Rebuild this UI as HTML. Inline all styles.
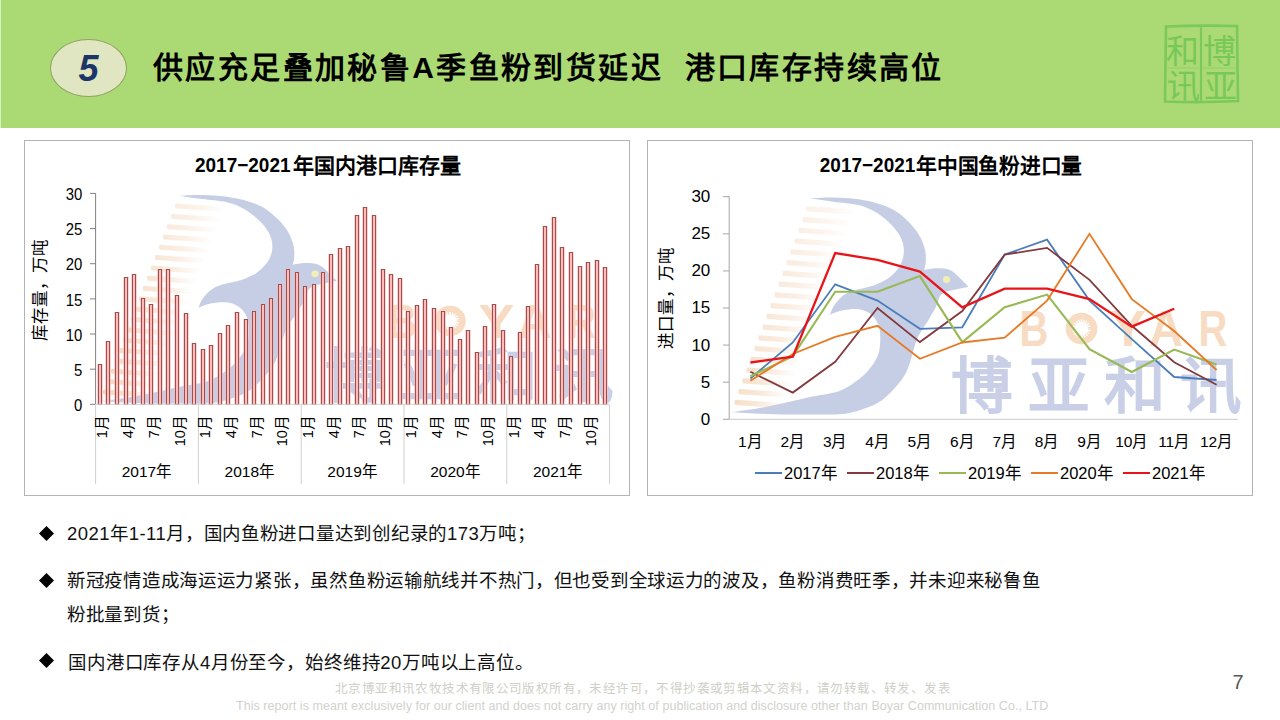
<!DOCTYPE html>
<html lang="zh-CN"><head><meta charset="utf-8"><style>
html,body{margin:0;padding:0;width:1280px;height:720px;overflow:hidden;background:#fff;font-family:"Liberation Sans", sans-serif;}
.hdr{position:absolute;left:0;top:0;width:1280px;height:128px;background:#abda75;}
.badge{position:absolute;left:50.2px;top:39.2px;width:76.8px;height:57.6px;border-radius:50%;background:#dfe6c1;border:1px solid #8fa35e;box-sizing:border-box;}
.badge span{position:absolute;left:0;right:0;top:8px;text-align:center;font:italic bold 36px "Liberation Sans", sans-serif;color:#1c3568;}
.title{position:absolute;left:153px;top:48px;font-weight:bold;font-size:30px;line-height:40px;color:#000;white-space:pre;letter-spacing:2.4px;}
.bul{position:absolute;left:67px;font-size:18.5px;line-height:24px;color:#111;white-space:pre;letter-spacing:-0.28px;}
.d{letter-spacing:0.45px;}
.dia{position:absolute;left:39px;width:15px;height:15px;}
.foot1{position:absolute;left:335px;top:681px;font-size:12.5px;line-height:16px;color:#cfcfc8;white-space:pre;letter-spacing:0.39px;}
.foot2{position:absolute;left:236px;top:697.7px;font-size:12.5px;line-height:16px;color:#d2d2cc;white-space:pre;letter-spacing:0.05px;}
.pn{position:absolute;left:1232.5px;top:670.5px;font-size:20px;line-height:22px;color:#595959;}
</style></head><body>
<div class="hdr"></div><div style="position:absolute;left:0;top:0;width:1px;height:128px;background:#d6f2bd"></div>
<div class="badge"><span>5</span></div>
<div class="title">供应充足叠加秘鲁A季鱼粉到货延迟  港口库存持续高位</div>
<svg width="84" height="86" style="position:absolute;left:1160px;top:21px">
<g fill="none" stroke="#7bc95a" stroke-width="2.6" stroke-linecap="round">
<path d="M6 5.5 Q40 4 77 5 L78 80 Q42 82 5 80.5 Z"/>
<line x1="41" y1="7" x2="41" y2="79" stroke-width="2.2"/>
<line x1="8" y1="47" x2="39" y2="47" stroke-width="0.8" opacity="0.6"/>
<line x1="43" y1="47" x2="76" y2="47" stroke-width="0.8" opacity="0.6"/>
</g>
<g fill="#78c858" font-family='"Liberation Sans", sans-serif' font-weight="300" font-size="33">
<text x="43" y="42">博</text><text x="44" y="77">亚</text><text x="6" y="42">和</text><text x="7" y="77">讯</text>
</g></svg><svg width="1280" height="720" style="position:absolute;left:0;top:0" font-family='"Liberation Sans", sans-serif'><defs><linearGradient id="stripe" x1="0" x2="1" y1="0" y2="0"><stop offset="0" stop-color="#f2d0b0" stop-opacity="1"/><stop offset="0.45" stop-color="#f2d0b0" stop-opacity="0.7"/><stop offset="1" stop-color="#f2d0b0" stop-opacity="0"/></linearGradient><linearGradient id="bar" x1="0" x2="1" y1="0" y2="0"><stop offset="0" stop-color="#ffa4a4"/><stop offset="0.5" stop-color="#ffdcdc"/><stop offset="1" stop-color="#ffa4a4"/></linearGradient></defs><rect x="24.5" y="140.5" width="605" height="355" fill="#fff" stroke="#b4b4b4" stroke-width="1"/><rect x="647.5" y="140.5" width="605" height="355" fill="#fff" stroke="#b4b4b4" stroke-width="1"/><g><path d="M810.0 198.3 C813.9 198.2 825.2 197.3 833.3 197.5 C841.3 197.7 850.5 198.1 858.3 199.2 C866.1 200.3 873.6 202.1 880.0 204.2 C886.4 206.3 891.7 208.5 896.7 211.7 C901.7 214.9 906.1 219.1 910.0 223.3 C913.9 227.5 917.5 232.2 920.0 236.7 C922.5 241.1 924.0 245.8 925.0 250.0 C926.0 254.2 925.9 258.4 925.8 261.7 C925.7 265.0 924.5 268.6 924.2 270.0 C926.3 269.7 932.4 268.3 936.7 268.3 C941.0 268.3 946.1 268.3 950.0 270.0 C953.9 271.7 957.0 275.5 960.0 278.3 C963.0 281.1 966.9 285.3 968.3 286.7 C966.6 287.1 961.7 288.2 958.0 289.0 C954.3 289.8 948.0 291.1 946.0 291.5 C945.0 292.2 941.5 293.7 940.0 296.0 C938.5 298.3 938.5 301.5 936.7 305.3 C934.9 309.1 932.2 313.4 929.0 318.9 C925.8 324.4 920.2 331.9 917.3 338.4 C914.4 344.9 913.3 352.0 911.4 357.8 C909.5 363.6 908.5 368.2 905.6 373.4 C902.7 378.6 898.4 384.1 893.9 389.0 C889.4 393.9 884.2 399.0 878.4 402.6 C872.6 406.2 865.4 408.5 858.9 410.4 C852.4 412.3 848.8 413.5 839.5 414.2 C830.2 414.9 815.3 414.5 803.0 414.5 C790.7 414.5 777.5 414.4 765.5 414.0 C753.5 413.6 736.8 412.5 731.0 412.2 C735.2 411.6 747.1 410.2 756.0 408.7 C764.9 407.2 774.8 405.1 784.2 403.1 C793.6 401.1 803.1 398.6 812.3 396.6 C821.5 394.6 831.7 393.8 839.5 390.9 C847.3 388.0 853.7 383.1 858.9 379.2 C864.1 375.3 867.4 371.7 870.6 367.5 C873.9 363.3 876.8 358.8 878.4 353.9 C880.0 349.0 880.3 343.3 880.3 338.4 C880.3 333.5 880.0 328.8 878.4 324.7 C876.8 320.6 873.9 316.6 870.6 314.0 C867.4 311.4 863.5 309.8 858.9 309.2 C854.3 308.6 847.8 309.4 843.3 310.2 C838.8 311.0 834.0 312.9 831.7 314.0 C829.4 315.1 830.0 316.1 829.7 316.5 C830.3 314.9 831.3 310.0 833.3 306.7 C835.3 303.4 838.8 299.2 841.7 296.7 C844.7 294.2 847.4 292.9 851.0 291.5 C854.6 290.1 859.3 289.4 863.3 288.3 C867.3 287.2 870.8 286.7 875.0 285.0 C879.2 283.3 884.4 281.1 888.3 278.3 C892.2 275.5 895.8 271.9 898.3 268.3 C900.8 264.7 902.5 260.6 903.3 256.7 C904.1 252.8 904.1 248.9 903.3 245.0 C902.5 241.1 900.8 237.2 898.3 233.3 C895.8 229.4 892.2 225.3 888.3 221.7 C884.4 218.1 880.0 214.5 875.0 211.7 C870.0 208.9 865.2 206.7 858.3 205.0 C851.3 203.3 841.3 202.8 833.3 201.7 C825.2 200.6 813.9 198.9 810.0 198.3 Z" fill="#c6cee6"/><circle cx="946.5" cy="279.5" r="3.6" fill="#f2eeb4"/><rect x="806.5" y="206.2" width="50" height="5.2" rx="1.5" fill="url(#stripe)" opacity="0.30" transform="skewY(4) translate(0 -56.4)"/><rect x="802.5" y="217.0" width="50" height="5.2" rx="1.5" fill="url(#stripe)" opacity="0.32" transform="skewY(4) translate(0 -56.1)"/><rect x="798.5" y="227.7" width="50" height="5.2" rx="1.5" fill="url(#stripe)" opacity="0.34" transform="skewY(4) translate(0 -55.8)"/><rect x="794.5" y="238.5" width="50" height="5.2" rx="1.5" fill="url(#stripe)" opacity="0.36" transform="skewY(4) translate(0 -55.6)"/><rect x="790.5" y="249.2" width="50" height="5.2" rx="1.5" fill="url(#stripe)" opacity="0.38" transform="skewY(4) translate(0 -55.3)"/><rect x="786.5" y="259.9" width="50" height="5.2" rx="1.5" fill="url(#stripe)" opacity="0.41" transform="skewY(4) translate(0 -55.0)"/><rect x="782.5" y="270.7" width="50" height="5.2" rx="1.5" fill="url(#stripe)" opacity="0.43" transform="skewY(4) translate(0 -54.7)"/><rect x="778.5" y="281.4" width="50" height="5.2" rx="1.5" fill="url(#stripe)" opacity="0.45" transform="skewY(4) translate(0 -54.4)"/><rect x="774.5" y="292.2" width="50" height="5.2" rx="1.5" fill="url(#stripe)" opacity="0.47" transform="skewY(4) translate(0 -54.2)"/><rect x="770.5" y="302.9" width="50" height="5.2" rx="1.5" fill="url(#stripe)" opacity="0.49" transform="skewY(4) translate(0 -53.9)"/><rect x="766.5" y="313.7" width="50" height="5.2" rx="1.5" fill="url(#stripe)" opacity="0.51" transform="skewY(4) translate(0 -53.6)"/><rect x="762.5" y="324.4" width="50" height="5.2" rx="1.5" fill="url(#stripe)" opacity="0.53" transform="skewY(4) translate(0 -53.3)"/><rect x="758.5" y="335.2" width="50" height="5.2" rx="1.5" fill="url(#stripe)" opacity="0.55" transform="skewY(4) translate(0 -53.0)"/><rect x="754.5" y="345.9" width="50" height="5.2" rx="1.5" fill="url(#stripe)" opacity="0.57" transform="skewY(4) translate(0 -52.8)"/><rect x="750.5" y="356.7" width="50" height="5.2" rx="1.5" fill="url(#stripe)" opacity="0.60" transform="skewY(4) translate(0 -52.5)"/><rect x="746.5" y="367.4" width="50" height="5.2" rx="1.5" fill="url(#stripe)" opacity="0.62" transform="skewY(4) translate(0 -52.2)"/><rect x="742.5" y="378.2" width="50" height="5.2" rx="1.5" fill="url(#stripe)" opacity="0.64" transform="skewY(4) translate(0 -51.9)"/><rect x="738.5" y="388.9" width="50" height="5.2" rx="1.5" fill="url(#stripe)" opacity="0.66" transform="skewY(4) translate(0 -51.6)"/><rect x="734.5" y="399.7" width="50" height="5.2" rx="1.5" fill="url(#stripe)" opacity="0.68" transform="skewY(4) translate(0 -51.4)"/><g fill="#f7dcc3" font-family='"Liberation Sans", sans-serif' font-weight="bold" font-size="40"><text x="1019.5" y="346.5" transform="translate(0 346.5) scale(1 1.25) translate(0 -346.5)">B</text><text x="1110" y="346.5" textLength="36" lengthAdjust="spacingAndGlyphs" transform="translate(0 346.5) scale(1 1.25) translate(0 -346.5)">Y</text><text x="1149" y="346.5" textLength="34" lengthAdjust="spacingAndGlyphs" transform="translate(0 346.5) scale(1 1.25) translate(0 -346.5)">A</text><text x="1198.5" y="346.5" transform="translate(0 346.5) scale(1 1.25) translate(0 -346.5)">R</text></g><circle cx="1081.5" cy="328.6" r="12.6" fill="none" stroke="#f7dcc3" stroke-width="6.5"/><circle cx="1081.5" cy="328.6" r="8.2" fill="none" stroke="#f7dcc3" stroke-width="3" stroke-dasharray="1.3 1.3"/><text x="951.2" y="407.5" fill="#c8cfe6" font-family='"Liberation Sans", sans-serif' font-weight="bold" font-size="61.5" letter-spacing="14.4">博亚和讯</text></g><g transform="translate(-631.5 5.25) scale(1 0.961)"><path d="M810.0 198.3 C813.9 198.2 825.2 197.3 833.3 197.5 C841.3 197.7 850.5 198.1 858.3 199.2 C866.1 200.3 873.6 202.1 880.0 204.2 C886.4 206.3 891.7 208.5 896.7 211.7 C901.7 214.9 906.1 219.1 910.0 223.3 C913.9 227.5 917.5 232.2 920.0 236.7 C922.5 241.1 924.0 245.8 925.0 250.0 C926.0 254.2 925.9 258.4 925.8 261.7 C925.7 265.0 924.5 268.6 924.2 270.0 C926.3 269.7 932.4 268.3 936.7 268.3 C941.0 268.3 946.1 268.3 950.0 270.0 C953.9 271.7 957.0 275.5 960.0 278.3 C963.0 281.1 966.9 285.3 968.3 286.7 C966.6 287.1 961.7 288.2 958.0 289.0 C954.3 289.8 948.0 291.1 946.0 291.5 C945.0 292.2 941.5 293.7 940.0 296.0 C938.5 298.3 938.5 301.5 936.7 305.3 C934.9 309.1 932.2 313.4 929.0 318.9 C925.8 324.4 920.2 331.9 917.3 338.4 C914.4 344.9 913.3 352.0 911.4 357.8 C909.5 363.6 908.5 368.2 905.6 373.4 C902.7 378.6 898.4 384.1 893.9 389.0 C889.4 393.9 884.2 399.0 878.4 402.6 C872.6 406.2 865.4 408.5 858.9 410.4 C852.4 412.3 848.8 413.5 839.5 414.2 C830.2 414.9 815.3 414.5 803.0 414.5 C790.7 414.5 777.5 414.4 765.5 414.0 C753.5 413.6 736.8 412.5 731.0 412.2 C735.2 411.6 747.1 410.2 756.0 408.7 C764.9 407.2 774.8 405.1 784.2 403.1 C793.6 401.1 803.1 398.6 812.3 396.6 C821.5 394.6 831.7 393.8 839.5 390.9 C847.3 388.0 853.7 383.1 858.9 379.2 C864.1 375.3 867.4 371.7 870.6 367.5 C873.9 363.3 876.8 358.8 878.4 353.9 C880.0 349.0 880.3 343.3 880.3 338.4 C880.3 333.5 880.0 328.8 878.4 324.7 C876.8 320.6 873.9 316.6 870.6 314.0 C867.4 311.4 863.5 309.8 858.9 309.2 C854.3 308.6 847.8 309.4 843.3 310.2 C838.8 311.0 834.0 312.9 831.7 314.0 C829.4 315.1 830.0 316.1 829.7 316.5 C830.3 314.9 831.3 310.0 833.3 306.7 C835.3 303.4 838.8 299.2 841.7 296.7 C844.7 294.2 847.4 292.9 851.0 291.5 C854.6 290.1 859.3 289.4 863.3 288.3 C867.3 287.2 870.8 286.7 875.0 285.0 C879.2 283.3 884.4 281.1 888.3 278.3 C892.2 275.5 895.8 271.9 898.3 268.3 C900.8 264.7 902.5 260.6 903.3 256.7 C904.1 252.8 904.1 248.9 903.3 245.0 C902.5 241.1 900.8 237.2 898.3 233.3 C895.8 229.4 892.2 225.3 888.3 221.7 C884.4 218.1 880.0 214.5 875.0 211.7 C870.0 208.9 865.2 206.7 858.3 205.0 C851.3 203.3 841.3 202.8 833.3 201.7 C825.2 200.6 813.9 198.9 810.0 198.3 Z" fill="#c6cee6"/><circle cx="946.5" cy="279.5" r="3.6" fill="#f2eeb4"/><rect x="806.5" y="206.2" width="50" height="5.2" rx="1.5" fill="url(#stripe)" opacity="0.39" transform="skewY(4) translate(0 -56.4)"/><rect x="802.5" y="217.0" width="50" height="5.2" rx="1.5" fill="url(#stripe)" opacity="0.42" transform="skewY(4) translate(0 -56.1)"/><rect x="798.5" y="227.7" width="50" height="5.2" rx="1.5" fill="url(#stripe)" opacity="0.44" transform="skewY(4) translate(0 -55.8)"/><rect x="794.5" y="238.5" width="50" height="5.2" rx="1.5" fill="url(#stripe)" opacity="0.47" transform="skewY(4) translate(0 -55.6)"/><rect x="790.5" y="249.2" width="50" height="5.2" rx="1.5" fill="url(#stripe)" opacity="0.50" transform="skewY(4) translate(0 -55.3)"/><rect x="786.5" y="259.9" width="50" height="5.2" rx="1.5" fill="url(#stripe)" opacity="0.53" transform="skewY(4) translate(0 -55.0)"/><rect x="782.5" y="270.7" width="50" height="5.2" rx="1.5" fill="url(#stripe)" opacity="0.55" transform="skewY(4) translate(0 -54.7)"/><rect x="778.5" y="281.4" width="50" height="5.2" rx="1.5" fill="url(#stripe)" opacity="0.58" transform="skewY(4) translate(0 -54.4)"/><rect x="774.5" y="292.2" width="50" height="5.2" rx="1.5" fill="url(#stripe)" opacity="0.61" transform="skewY(4) translate(0 -54.2)"/><rect x="770.5" y="302.9" width="50" height="5.2" rx="1.5" fill="url(#stripe)" opacity="0.64" transform="skewY(4) translate(0 -53.9)"/><rect x="766.5" y="313.7" width="50" height="5.2" rx="1.5" fill="url(#stripe)" opacity="0.66" transform="skewY(4) translate(0 -53.6)"/><rect x="762.5" y="324.4" width="50" height="5.2" rx="1.5" fill="url(#stripe)" opacity="0.69" transform="skewY(4) translate(0 -53.3)"/><rect x="758.5" y="335.2" width="50" height="5.2" rx="1.5" fill="url(#stripe)" opacity="0.72" transform="skewY(4) translate(0 -53.0)"/><rect x="754.5" y="345.9" width="50" height="5.2" rx="1.5" fill="url(#stripe)" opacity="0.75" transform="skewY(4) translate(0 -52.8)"/><rect x="750.5" y="356.7" width="50" height="5.2" rx="1.5" fill="url(#stripe)" opacity="0.77" transform="skewY(4) translate(0 -52.5)"/><rect x="746.5" y="367.4" width="50" height="5.2" rx="1.5" fill="url(#stripe)" opacity="0.80" transform="skewY(4) translate(0 -52.2)"/><rect x="742.5" y="378.2" width="50" height="5.2" rx="1.5" fill="url(#stripe)" opacity="0.83" transform="skewY(4) translate(0 -51.9)"/><rect x="738.5" y="388.9" width="50" height="5.2" rx="1.5" fill="url(#stripe)" opacity="0.86" transform="skewY(4) translate(0 -51.6)"/><rect x="734.5" y="399.7" width="50" height="5.2" rx="1.5" fill="url(#stripe)" opacity="0.88" transform="skewY(4) translate(0 -51.4)"/><g fill="#f7dcc3" font-family='"Liberation Sans", sans-serif' font-weight="bold" font-size="40"><text x="1019.5" y="346.5" transform="translate(0 346.5) scale(1 1.25) translate(0 -346.5)">B</text><text x="1110" y="346.5" textLength="36" lengthAdjust="spacingAndGlyphs" transform="translate(0 346.5) scale(1 1.25) translate(0 -346.5)">Y</text><text x="1149" y="346.5" textLength="34" lengthAdjust="spacingAndGlyphs" transform="translate(0 346.5) scale(1 1.25) translate(0 -346.5)">A</text><text x="1198.5" y="346.5" transform="translate(0 346.5) scale(1 1.25) translate(0 -346.5)">R</text></g><circle cx="1081.5" cy="328.6" r="12.6" fill="none" stroke="#f7dcc3" stroke-width="6.5"/><circle cx="1081.5" cy="328.6" r="8.2" fill="none" stroke="#f7dcc3" stroke-width="3" stroke-dasharray="1.3 1.3"/><text x="956.4" y="407.5" fill="#c8cfe6" font-family='"Liberation Sans", sans-serif' font-weight="bold" font-size="61.5" letter-spacing="14.4">博亚和讯</text></g><text x="195" y="172" textLength="95.5" lengthAdjust="spacingAndGlyphs" font-size="20" font-weight="bold" fill="#000">2017−2021</text><text x="292.5" y="172.5" textLength="168" lengthAdjust="spacingAndGlyphs" font-size="21" font-weight="bold" fill="#000">年国内港口库存量</text><line x1="95.6" y1="193.2" x2="95.6" y2="404.3" stroke="#808080" stroke-width="1"/><line x1="90" y1="404.3" x2="95.6" y2="404.3" stroke="#808080" stroke-width="1"/><text transform="translate(82.3 411.0) scale(0.92 1)" text-anchor="end" font-size="16.2" fill="#000">0</text><line x1="90" y1="369.2" x2="95.6" y2="369.2" stroke="#808080" stroke-width="1"/><text transform="translate(82.3 375.9) scale(0.92 1)" text-anchor="end" font-size="16.2" fill="#000">5</text><line x1="90" y1="334.0" x2="95.6" y2="334.0" stroke="#808080" stroke-width="1"/><text transform="translate(82.3 340.7) scale(0.92 1)" text-anchor="end" font-size="16.2" fill="#000">10</text><line x1="90" y1="298.9" x2="95.6" y2="298.9" stroke="#808080" stroke-width="1"/><text transform="translate(82.3 305.6) scale(0.92 1)" text-anchor="end" font-size="16.2" fill="#000">15</text><line x1="90" y1="263.7" x2="95.6" y2="263.7" stroke="#808080" stroke-width="1"/><text transform="translate(82.3 270.4) scale(0.92 1)" text-anchor="end" font-size="16.2" fill="#000">20</text><line x1="90" y1="228.6" x2="95.6" y2="228.6" stroke="#808080" stroke-width="1"/><text transform="translate(82.3 235.2) scale(0.92 1)" text-anchor="end" font-size="16.2" fill="#000">25</text><line x1="90" y1="193.4" x2="95.6" y2="193.4" stroke="#808080" stroke-width="1"/><text transform="translate(82.3 200.1) scale(0.92 1)" text-anchor="end" font-size="16.2" fill="#000">30</text><text transform="translate(46 290) rotate(-90)" text-anchor="middle" font-size="16.5" fill="#000">库存量，万吨</text><rect x="97.0" y="364.0" width="6" height="40.5" fill="#ffb4b4" opacity="0.6"/><rect x="98.5" y="364.5" width="3" height="40.0" fill="#ffbaba" stroke="#985252" stroke-width="1"/><rect x="105.0" y="341.0" width="6" height="63.5" fill="#ffb4b4" opacity="0.6"/><rect x="106.5" y="341.5" width="3" height="63.0" fill="#ffbaba" stroke="#985252" stroke-width="1"/><rect x="114.0" y="312.0" width="6" height="92.5" fill="#ffb4b4" opacity="0.6"/><rect x="115.5" y="312.5" width="3" height="92.0" fill="#ffbaba" stroke="#985252" stroke-width="1"/><rect x="123.0" y="277.0" width="6" height="127.5" fill="#ffb4b4" opacity="0.6"/><rect x="124.5" y="277.5" width="3" height="127.0" fill="#ffbaba" stroke="#985252" stroke-width="1"/><rect x="131.0" y="274.0" width="6" height="130.5" fill="#ffb4b4" opacity="0.6"/><rect x="132.5" y="274.5" width="3" height="130.0" fill="#ffbaba" stroke="#985252" stroke-width="1"/><rect x="140.0" y="298.0" width="6" height="106.5" fill="#ffb4b4" opacity="0.6"/><rect x="141.5" y="298.5" width="3" height="106.0" fill="#ffbaba" stroke="#985252" stroke-width="1"/><rect x="148.0" y="304.0" width="6" height="100.5" fill="#ffb4b4" opacity="0.6"/><rect x="149.5" y="304.5" width="3" height="100.0" fill="#ffbaba" stroke="#985252" stroke-width="1"/><rect x="157.0" y="269.0" width="6" height="135.5" fill="#ffb4b4" opacity="0.6"/><rect x="158.5" y="269.5" width="3" height="135.0" fill="#ffbaba" stroke="#985252" stroke-width="1"/><rect x="165.0" y="269.0" width="6" height="135.5" fill="#ffb4b4" opacity="0.6"/><rect x="166.5" y="269.5" width="3" height="135.0" fill="#ffbaba" stroke="#985252" stroke-width="1"/><rect x="174.0" y="295.0" width="6" height="109.5" fill="#ffb4b4" opacity="0.6"/><rect x="175.5" y="295.5" width="3" height="109.0" fill="#ffbaba" stroke="#985252" stroke-width="1"/><rect x="183.0" y="313.0" width="6" height="91.5" fill="#ffb4b4" opacity="0.6"/><rect x="184.5" y="313.5" width="3" height="91.0" fill="#ffbaba" stroke="#985252" stroke-width="1"/><rect x="191.0" y="343.0" width="6" height="61.5" fill="#ffb4b4" opacity="0.6"/><rect x="192.5" y="343.5" width="3" height="61.0" fill="#ffbaba" stroke="#985252" stroke-width="1"/><rect x="200.0" y="349.0" width="6" height="55.5" fill="#ffb4b4" opacity="0.6"/><rect x="201.5" y="349.5" width="3" height="55.0" fill="#ffbaba" stroke="#985252" stroke-width="1"/><rect x="208.0" y="345.0" width="6" height="59.5" fill="#ffb4b4" opacity="0.6"/><rect x="209.5" y="345.5" width="3" height="59.0" fill="#ffbaba" stroke="#985252" stroke-width="1"/><rect x="217.0" y="333.0" width="6" height="71.5" fill="#ffb4b4" opacity="0.6"/><rect x="218.5" y="333.5" width="3" height="71.0" fill="#ffbaba" stroke="#985252" stroke-width="1"/><rect x="225.0" y="325.0" width="6" height="79.5" fill="#ffb4b4" opacity="0.6"/><rect x="226.5" y="325.5" width="3" height="79.0" fill="#ffbaba" stroke="#985252" stroke-width="1"/><rect x="234.0" y="312.0" width="6" height="92.5" fill="#ffb4b4" opacity="0.6"/><rect x="235.5" y="312.5" width="3" height="92.0" fill="#ffbaba" stroke="#985252" stroke-width="1"/><rect x="243.0" y="319.0" width="6" height="85.5" fill="#ffb4b4" opacity="0.6"/><rect x="244.5" y="319.5" width="3" height="85.0" fill="#ffbaba" stroke="#985252" stroke-width="1"/><rect x="251.0" y="311.0" width="6" height="93.5" fill="#ffb4b4" opacity="0.6"/><rect x="252.5" y="311.5" width="3" height="93.0" fill="#ffbaba" stroke="#985252" stroke-width="1"/><rect x="260.0" y="304.0" width="6" height="100.5" fill="#ffb4b4" opacity="0.6"/><rect x="261.5" y="304.5" width="3" height="100.0" fill="#ffbaba" stroke="#985252" stroke-width="1"/><rect x="268.0" y="298.0" width="6" height="106.5" fill="#ffb4b4" opacity="0.6"/><rect x="269.5" y="298.5" width="3" height="106.0" fill="#ffbaba" stroke="#985252" stroke-width="1"/><rect x="277.0" y="284.0" width="6" height="120.5" fill="#ffb4b4" opacity="0.6"/><rect x="278.5" y="284.5" width="3" height="120.0" fill="#ffbaba" stroke="#985252" stroke-width="1"/><rect x="285.0" y="269.0" width="6" height="135.5" fill="#ffb4b4" opacity="0.6"/><rect x="286.5" y="269.5" width="3" height="135.0" fill="#ffbaba" stroke="#985252" stroke-width="1"/><rect x="294.0" y="272.0" width="6" height="132.5" fill="#ffb4b4" opacity="0.6"/><rect x="295.5" y="272.5" width="3" height="132.0" fill="#ffbaba" stroke="#985252" stroke-width="1"/><rect x="302.0" y="286.0" width="6" height="118.5" fill="#ffb4b4" opacity="0.6"/><rect x="303.5" y="286.5" width="3" height="118.0" fill="#ffbaba" stroke="#985252" stroke-width="1"/><rect x="311.0" y="284.0" width="6" height="120.5" fill="#ffb4b4" opacity="0.6"/><rect x="312.5" y="284.5" width="3" height="120.0" fill="#ffbaba" stroke="#985252" stroke-width="1"/><rect x="320.0" y="272.0" width="6" height="132.5" fill="#ffb4b4" opacity="0.6"/><rect x="321.5" y="272.5" width="3" height="132.0" fill="#ffbaba" stroke="#985252" stroke-width="1"/><rect x="328.0" y="254.0" width="6" height="150.5" fill="#ffb4b4" opacity="0.6"/><rect x="329.5" y="254.5" width="3" height="150.0" fill="#ffbaba" stroke="#985252" stroke-width="1"/><rect x="337.0" y="248.0" width="6" height="156.5" fill="#ffb4b4" opacity="0.6"/><rect x="338.5" y="248.5" width="3" height="156.0" fill="#ffbaba" stroke="#985252" stroke-width="1"/><rect x="345.0" y="246.0" width="6" height="158.5" fill="#ffb4b4" opacity="0.6"/><rect x="346.5" y="246.5" width="3" height="158.0" fill="#ffbaba" stroke="#985252" stroke-width="1"/><rect x="354.0" y="215.0" width="6" height="189.5" fill="#ffb4b4" opacity="0.6"/><rect x="355.5" y="215.5" width="3" height="189.0" fill="#ffbaba" stroke="#985252" stroke-width="1"/><rect x="362.0" y="207.0" width="6" height="197.5" fill="#ffb4b4" opacity="0.6"/><rect x="363.5" y="207.5" width="3" height="197.0" fill="#ffbaba" stroke="#985252" stroke-width="1"/><rect x="371.0" y="215.0" width="6" height="189.5" fill="#ffb4b4" opacity="0.6"/><rect x="372.5" y="215.5" width="3" height="189.0" fill="#ffbaba" stroke="#985252" stroke-width="1"/><rect x="380.0" y="269.0" width="6" height="135.5" fill="#ffb4b4" opacity="0.6"/><rect x="381.5" y="269.5" width="3" height="135.0" fill="#ffbaba" stroke="#985252" stroke-width="1"/><rect x="388.0" y="274.0" width="6" height="130.5" fill="#ffb4b4" opacity="0.6"/><rect x="389.5" y="274.5" width="3" height="130.0" fill="#ffbaba" stroke="#985252" stroke-width="1"/><rect x="397.0" y="278.0" width="6" height="126.5" fill="#ffb4b4" opacity="0.6"/><rect x="398.5" y="278.5" width="3" height="126.0" fill="#ffbaba" stroke="#985252" stroke-width="1"/><rect x="405.0" y="311.0" width="6" height="93.5" fill="#ffb4b4" opacity="0.6"/><rect x="406.5" y="311.5" width="3" height="93.0" fill="#ffbaba" stroke="#985252" stroke-width="1"/><rect x="414.0" y="305.0" width="6" height="99.5" fill="#ffb4b4" opacity="0.6"/><rect x="415.5" y="305.5" width="3" height="99.0" fill="#ffbaba" stroke="#985252" stroke-width="1"/><rect x="422.0" y="299.0" width="6" height="105.5" fill="#ffb4b4" opacity="0.6"/><rect x="423.5" y="299.5" width="3" height="105.0" fill="#ffbaba" stroke="#985252" stroke-width="1"/><rect x="431.0" y="308.0" width="6" height="96.5" fill="#ffb4b4" opacity="0.6"/><rect x="432.5" y="308.5" width="3" height="96.0" fill="#ffbaba" stroke="#985252" stroke-width="1"/><rect x="440.0" y="311.0" width="6" height="93.5" fill="#ffb4b4" opacity="0.6"/><rect x="441.5" y="311.5" width="3" height="93.0" fill="#ffbaba" stroke="#985252" stroke-width="1"/><rect x="448.0" y="327.0" width="6" height="77.5" fill="#ffb4b4" opacity="0.6"/><rect x="449.5" y="327.5" width="3" height="77.0" fill="#ffbaba" stroke="#985252" stroke-width="1"/><rect x="457.0" y="339.0" width="6" height="65.5" fill="#ffb4b4" opacity="0.6"/><rect x="458.5" y="339.5" width="3" height="65.0" fill="#ffbaba" stroke="#985252" stroke-width="1"/><rect x="465.0" y="330.0" width="6" height="74.5" fill="#ffb4b4" opacity="0.6"/><rect x="466.5" y="330.5" width="3" height="74.0" fill="#ffbaba" stroke="#985252" stroke-width="1"/><rect x="474.0" y="352.0" width="6" height="52.5" fill="#ffb4b4" opacity="0.6"/><rect x="475.5" y="352.5" width="3" height="52.0" fill="#ffbaba" stroke="#985252" stroke-width="1"/><rect x="482.0" y="326.0" width="6" height="78.5" fill="#ffb4b4" opacity="0.6"/><rect x="483.5" y="326.5" width="3" height="78.0" fill="#ffbaba" stroke="#985252" stroke-width="1"/><rect x="491.0" y="304.0" width="6" height="100.5" fill="#ffb4b4" opacity="0.6"/><rect x="492.5" y="304.5" width="3" height="100.0" fill="#ffbaba" stroke="#985252" stroke-width="1"/><rect x="500.0" y="330.0" width="6" height="74.5" fill="#ffb4b4" opacity="0.6"/><rect x="501.5" y="330.5" width="3" height="74.0" fill="#ffbaba" stroke="#985252" stroke-width="1"/><rect x="508.0" y="356.0" width="6" height="48.5" fill="#ffb4b4" opacity="0.6"/><rect x="509.5" y="356.5" width="3" height="48.0" fill="#ffbaba" stroke="#985252" stroke-width="1"/><rect x="517.0" y="332.0" width="6" height="72.5" fill="#ffb4b4" opacity="0.6"/><rect x="518.5" y="332.5" width="3" height="72.0" fill="#ffbaba" stroke="#985252" stroke-width="1"/><rect x="525.0" y="306.0" width="6" height="98.5" fill="#ffb4b4" opacity="0.6"/><rect x="526.5" y="306.5" width="3" height="98.0" fill="#ffbaba" stroke="#985252" stroke-width="1"/><rect x="534.0" y="264.0" width="6" height="140.5" fill="#ffb4b4" opacity="0.6"/><rect x="535.5" y="264.5" width="3" height="140.0" fill="#ffbaba" stroke="#985252" stroke-width="1"/><rect x="542.0" y="226.0" width="6" height="178.5" fill="#ffb4b4" opacity="0.6"/><rect x="543.5" y="226.5" width="3" height="178.0" fill="#ffbaba" stroke="#985252" stroke-width="1"/><rect x="551.0" y="217.0" width="6" height="187.5" fill="#ffb4b4" opacity="0.6"/><rect x="552.5" y="217.5" width="3" height="187.0" fill="#ffbaba" stroke="#985252" stroke-width="1"/><rect x="559.0" y="247.0" width="6" height="157.5" fill="#ffb4b4" opacity="0.6"/><rect x="560.5" y="247.5" width="3" height="157.0" fill="#ffbaba" stroke="#985252" stroke-width="1"/><rect x="568.0" y="252.0" width="6" height="152.5" fill="#ffb4b4" opacity="0.6"/><rect x="569.5" y="252.5" width="3" height="152.0" fill="#ffbaba" stroke="#985252" stroke-width="1"/><rect x="577.0" y="266.0" width="6" height="138.5" fill="#ffb4b4" opacity="0.6"/><rect x="578.5" y="266.5" width="3" height="138.0" fill="#ffbaba" stroke="#985252" stroke-width="1"/><rect x="585.0" y="262.0" width="6" height="142.5" fill="#ffb4b4" opacity="0.6"/><rect x="586.5" y="262.5" width="3" height="142.0" fill="#ffbaba" stroke="#985252" stroke-width="1"/><rect x="594.0" y="260.0" width="6" height="144.5" fill="#ffb4b4" opacity="0.6"/><rect x="595.5" y="260.5" width="3" height="144.0" fill="#ffbaba" stroke="#985252" stroke-width="1"/><rect x="602.0" y="267.0" width="6" height="137.5" fill="#ffb4b4" opacity="0.6"/><rect x="603.5" y="267.5" width="3" height="137.0" fill="#ffbaba" stroke="#985252" stroke-width="1"/><line x1="95.6" y1="404.3" x2="609.6" y2="404.3" stroke="#d0d0d0" stroke-width="1"/><line x1="95.6" y1="404.3" x2="95.6" y2="484" stroke="#d0d0d0" stroke-width="1"/><line x1="198.4" y1="404.3" x2="198.4" y2="484" stroke="#d0d0d0" stroke-width="1"/><line x1="301.2" y1="404.3" x2="301.2" y2="484" stroke="#d0d0d0" stroke-width="1"/><line x1="404.0" y1="404.3" x2="404.0" y2="484" stroke="#d0d0d0" stroke-width="1"/><line x1="506.8" y1="404.3" x2="506.8" y2="484" stroke="#d0d0d0" stroke-width="1"/><line x1="609.6" y1="404.3" x2="609.6" y2="484" stroke="#d0d0d0" stroke-width="1"/><text transform="translate(107.4 416.2) rotate(-90)" text-anchor="end" font-size="14.5" fill="#000">1月</text><text transform="translate(133.1 416.2) rotate(-90)" text-anchor="end" font-size="14.5" fill="#000">4月</text><text transform="translate(158.8 416.2) rotate(-90)" text-anchor="end" font-size="14.5" fill="#000">7月</text><text transform="translate(184.5 416.2) rotate(-90)" text-anchor="end" font-size="14.5" fill="#000">10月</text><text x="147.0" y="477" text-anchor="middle" font-size="15.5" fill="#000">2017年</text><text transform="translate(210.2 416.2) rotate(-90)" text-anchor="end" font-size="14.5" fill="#000">1月</text><text transform="translate(235.9 416.2) rotate(-90)" text-anchor="end" font-size="14.5" fill="#000">4月</text><text transform="translate(261.6 416.2) rotate(-90)" text-anchor="end" font-size="14.5" fill="#000">7月</text><text transform="translate(287.3 416.2) rotate(-90)" text-anchor="end" font-size="14.5" fill="#000">10月</text><text x="249.8" y="477" text-anchor="middle" font-size="15.5" fill="#000">2018年</text><text transform="translate(313.0 416.2) rotate(-90)" text-anchor="end" font-size="14.5" fill="#000">1月</text><text transform="translate(338.7 416.2) rotate(-90)" text-anchor="end" font-size="14.5" fill="#000">4月</text><text transform="translate(364.4 416.2) rotate(-90)" text-anchor="end" font-size="14.5" fill="#000">7月</text><text transform="translate(390.1 416.2) rotate(-90)" text-anchor="end" font-size="14.5" fill="#000">10月</text><text x="352.6" y="477" text-anchor="middle" font-size="15.5" fill="#000">2019年</text><text transform="translate(415.8 416.2) rotate(-90)" text-anchor="end" font-size="14.5" fill="#000">1月</text><text transform="translate(441.5 416.2) rotate(-90)" text-anchor="end" font-size="14.5" fill="#000">4月</text><text transform="translate(467.2 416.2) rotate(-90)" text-anchor="end" font-size="14.5" fill="#000">7月</text><text transform="translate(492.9 416.2) rotate(-90)" text-anchor="end" font-size="14.5" fill="#000">10月</text><text x="455.4" y="477" text-anchor="middle" font-size="15.5" fill="#000">2020年</text><text transform="translate(518.6 416.2) rotate(-90)" text-anchor="end" font-size="14.5" fill="#000">1月</text><text transform="translate(544.3 416.2) rotate(-90)" text-anchor="end" font-size="14.5" fill="#000">4月</text><text transform="translate(570.0 416.2) rotate(-90)" text-anchor="end" font-size="14.5" fill="#000">7月</text><text transform="translate(595.7 416.2) rotate(-90)" text-anchor="end" font-size="14.5" fill="#000">10月</text><text x="558.2" y="477" text-anchor="middle" font-size="15.5" fill="#000">2021年</text><text x="819.8" y="172" textLength="95.5" lengthAdjust="spacingAndGlyphs" font-size="20" font-weight="bold" fill="#000">2017−2021</text><text x="916" y="172.5" textLength="166" lengthAdjust="spacingAndGlyphs" font-size="21" font-weight="bold" fill="#000">年中国鱼粉进口量</text><line x1="729.2" y1="196.3" x2="729.2" y2="419.3" stroke="#a6a6a6" stroke-width="1"/><line x1="729.2" y1="419.3" x2="1237.8" y2="419.3" stroke="#c8c8c8" stroke-width="1"/><line x1="723" y1="419.3" x2="729.2" y2="419.3" stroke="#a6a6a6" stroke-width="1"/><text x="710.3" y="424.7" text-anchor="end" font-size="17" fill="#000">0</text><line x1="723" y1="382.2" x2="729.2" y2="382.2" stroke="#a6a6a6" stroke-width="1"/><text x="710.3" y="387.6" text-anchor="end" font-size="17" fill="#000">5</text><line x1="723" y1="345.1" x2="729.2" y2="345.1" stroke="#a6a6a6" stroke-width="1"/><text x="710.3" y="350.5" text-anchor="end" font-size="17" fill="#000">10</text><line x1="723" y1="308.0" x2="729.2" y2="308.0" stroke="#a6a6a6" stroke-width="1"/><text x="710.3" y="313.4" text-anchor="end" font-size="17" fill="#000">15</text><line x1="723" y1="270.9" x2="729.2" y2="270.9" stroke="#a6a6a6" stroke-width="1"/><text x="710.3" y="276.3" text-anchor="end" font-size="17" fill="#000">20</text><line x1="723" y1="233.8" x2="729.2" y2="233.8" stroke="#a6a6a6" stroke-width="1"/><text x="710.3" y="239.2" text-anchor="end" font-size="17" fill="#000">25</text><line x1="723" y1="196.7" x2="729.2" y2="196.7" stroke="#a6a6a6" stroke-width="1"/><text x="710.3" y="202.1" text-anchor="end" font-size="17" fill="#000">30</text><text transform="translate(671.5 297.6) rotate(-90)" text-anchor="middle" font-size="16.5" fill="#000">进口量，万吨</text><text x="750.4" y="447" text-anchor="middle" font-size="15.5" fill="#000">1月</text><text x="792.8" y="447" text-anchor="middle" font-size="15.5" fill="#000">2月</text><text x="835.2" y="447" text-anchor="middle" font-size="15.5" fill="#000">3月</text><text x="877.5" y="447" text-anchor="middle" font-size="15.5" fill="#000">4月</text><text x="919.9" y="447" text-anchor="middle" font-size="15.5" fill="#000">5月</text><text x="962.3" y="447" text-anchor="middle" font-size="15.5" fill="#000">6月</text><text x="1004.7" y="447" text-anchor="middle" font-size="15.5" fill="#000">7月</text><text x="1047.1" y="447" text-anchor="middle" font-size="15.5" fill="#000">8月</text><text x="1089.5" y="447" text-anchor="middle" font-size="15.5" fill="#000">9月</text><text x="1131.8" y="447" text-anchor="middle" font-size="15.5" fill="#000">10月</text><text x="1174.2" y="447" text-anchor="middle" font-size="15.5" fill="#000">11月</text><text x="1216.6" y="447" text-anchor="middle" font-size="15.5" fill="#000">12月</text><polyline points="750.4,378.5 792.8,342.5 835.2,284.3 877.5,300.6 919.9,328.8 962.3,327.3 1004.7,254.6 1047.1,239.7 1089.5,300.6 1131.8,339.2 1174.2,377.0 1216.6,380.0" fill="none" stroke="#4a7ebb" stroke-width="1.8" stroke-linejoin="miter"/><polyline points="750.4,371.8 792.8,392.6 835.2,361.8 877.5,308.0 919.9,342.1 962.3,311.0 1004.7,254.6 1047.1,247.9 1089.5,279.8 1131.8,325.8 1174.2,362.2 1216.6,384.7" fill="none" stroke="#833a3e" stroke-width="1.8" stroke-linejoin="miter"/><polyline points="750.4,376.3 792.8,356.2 835.2,291.7 877.5,291.7 919.9,276.1 962.3,342.1 1004.7,307.3 1047.1,294.6 1089.5,349.2 1131.8,372.0 1174.2,349.6 1216.6,364.4" fill="none" stroke="#98b954" stroke-width="2.1" stroke-linejoin="miter"/><polyline points="750.4,380.7 792.8,354.0 835.2,336.9 877.5,325.8 919.9,358.8 962.3,342.5 1004.7,337.7 1047.1,300.6 1089.5,233.8 1131.8,299.1 1174.2,331.0 1216.6,370.0" fill="none" stroke="#e67a26" stroke-width="1.8" stroke-linejoin="miter"/><polyline points="750.4,362.5 792.8,356.7 835.2,253.1 877.5,259.8 919.9,271.6 962.3,307.3 1004.7,288.7 1047.1,288.7 1089.5,299.1 1131.8,326.6 1174.2,308.7" fill="none" stroke="#e8141a" stroke-width="2.3" stroke-linejoin="miter"/><line x1="755" y1="473" x2="782" y2="473" stroke="#4a7ebb" stroke-width="2"/><text x="784" y="479" font-size="16.5" fill="#000">2017年</text><line x1="847" y1="473" x2="874" y2="473" stroke="#833a3e" stroke-width="2"/><text x="876" y="479" font-size="16.5" fill="#000">2018年</text><line x1="939" y1="473" x2="966" y2="473" stroke="#98b954" stroke-width="2"/><text x="968" y="479" font-size="16.5" fill="#000">2019年</text><line x1="1031" y1="473" x2="1058" y2="473" stroke="#e67a26" stroke-width="2"/><text x="1060" y="479" font-size="16.5" fill="#000">2020年</text><line x1="1123" y1="473" x2="1150" y2="473" stroke="#e8141a" stroke-width="2"/><text x="1152" y="479" font-size="16.5" fill="#000">2021年</text></svg>
<svg class="dia" style="top:526px" viewBox="0 0 15 15"><path d="M7.5 0 L15 7.5 L7.5 15 L0 7.5Z" fill="#000"/></svg>
<div class="bul" style="top:521.8px"><span class="d">2021</span>年<span class="d">1-11</span>月，国内鱼粉进口量达到创纪录的<span class="d">173</span>万吨；</div>
<svg class="dia" style="top:573px" viewBox="0 0 15 15"><path d="M7.5 0 L15 7.5 L7.5 15 L0 7.5Z" fill="#000"/></svg>
<div class="bul" style="top:569px">新冠疫情造成海运运力紧张，虽然鱼粉运输航线并不热门，但也受到全球运力的波及，鱼粉消费旺季，并未迎来秘鲁鱼</div>
<div class="bul" style="top:603px">粉批量到货；</div>
<svg class="dia" style="top:653px" viewBox="0 0 15 15"><path d="M7.5 0 L15 7.5 L7.5 15 L0 7.5Z" fill="#000"/></svg>
<div class="bul" style="top:650.5px;left:68px;letter-spacing:-0.15px">国内港口库存从<span class="d">4</span>月份至今，始终维持<span class="d">20</span>万吨以上高位。</div>
<div class="foot1">北京博亚和讯农牧技术有限公司版权所有，未经许可，不得抄袭或剪辑本文资料，请勿转载、转发、发表</div>
<div class="foot2">This report is meant exclusively for our client and does not carry any right of publication and disclosure other than Boyar Communication Co., LTD</div>
<div class="pn">7</div>
</body></html>
